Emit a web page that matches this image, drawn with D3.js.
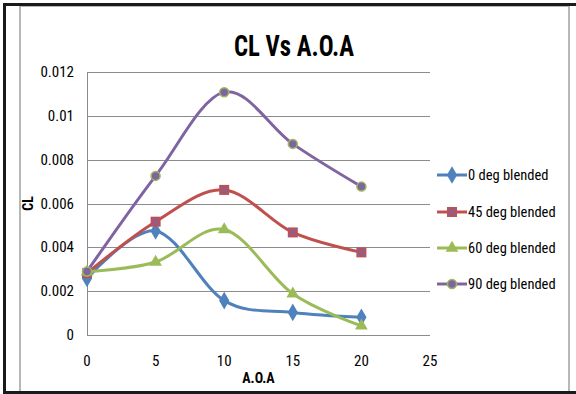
<!DOCTYPE html>
<html>
<head>
<meta charset="utf-8">
<script src="https://cdn.jsdelivr.net/npm/d3@7"></script>
<style>
  body { margin: 0; background: #fff; }
  svg { display: block; }
  text { font-family: "Liberation Sans Narrow", "Roboto Condensed", "DejaVu Sans Condensed", sans-serif; fill: #000; }
</style>
</head>
<body>
<div id="chart"></div>
<script>
const width = 576;
const height = 394;
const margin = { left: 87, right: 146, top: 72, bottom: 59 };

// data
const aoa = [0, 5, 10, 15, 20];
const series_names = ['0 deg blended', '45 deg blended', '60 deg blended', '90 deg blended'];
const cl_0 = [0.00258, 0.00475, 0.00157, 0.00103, 0.00081];
const cl_45 = [0.00282, 0.00517, 0.00662, 0.00468, 0.00377];
const cl_60 = [0.00288, 0.00333, 0.00481, 0.00188, 0.00042];
const cl_90 = [0.00290, 0.00726, 0.01108, 0.00872, 0.00677];
const x_ticks = [0, 5, 10, 15, 20, 25];
const y_ticks = [0, 0.002, 0.004, 0.006, 0.008, 0.01, 0.012];

const colors = ['#4f81bd', '#c0504d', '#9bbb59', '#8064a2'];
const series = [cl_0, cl_45, cl_60, cl_90].map((vals, i) => ({
  name: series_names[i],
  color: colors[i],
  points: vals.map((v, j) => ({ x: aoa[j], y: v }))
}));

const plot_w = width - margin.left - margin.right;
const plot_h = height - margin.top - margin.bottom;

const x_scale = d3.scaleLinear().domain([0, 25]).range([0, plot_w]);
const y_scale = d3.scaleLinear().domain([0, 0.012]).range([plot_h, 0]);

const root = d3.select('#chart')
  .append('svg')
    .attr('width', width)
    .attr('height', height);

// frame
root.append('rect')
  .attr('x', 20).attr('y', 6).attr('width', 549).attr('height', 400)
  .attr('fill', 'none').attr('stroke', '#a0a0a0').attr('stroke-width', 1.5);
root.append('path')
  .attr('d', 'M4.5,400V4.5H580M4,392.5H580')
  .attr('fill', 'none').attr('stroke', '#1a1a1a').attr('stroke-width', 3);

// title
root.append('text')
  .attr('x', 294).attr('y', 56)
  .attr('text-anchor', 'middle')
  .attr('textLength', 120)
  .attr('lengthAdjust', 'spacingAndGlyphs')
  .style('font-size', '30px').style('font-weight', 'bold')
  .text('CL Vs A.O.A');

const svg = root.append('g')
  .attr('transform', `translate(${margin.left},${margin.top})`);

// gridlines
svg.selectAll('.grid')
    .data(y_ticks)
  .join('line')
    .attr('class', 'grid')
    .attr('x1', 0).attr('x2', plot_w)
    .attr('y1', d => Math.round(y_scale(d)) + 0.5)
    .attr('y2', d => Math.round(y_scale(d)) + 0.5)
    .attr('stroke', '#8c8c8c');
svg.append('line')
  .attr('x1', 0.5).attr('x2', 0.5).attr('y1', 0).attr('y2', plot_h)
  .attr('stroke', '#8c8c8c');

// y tick labels
svg.selectAll('.ytick')
    .data(y_ticks)
  .join('text')
    .attr('class', 'ytick')
    .attr('x', -13)
    .attr('y', d => y_scale(d) + 5)
    .attr('text-anchor', 'end')
    .style('font-size', '15px')
    .text(d => d === 0 ? '0' : String(+d.toFixed(3)));

// x tick labels
svg.selectAll('.xtick')
    .data(x_ticks)
  .join('text')
    .attr('class', 'xtick')
    .attr('x', d => x_scale(d))
    .attr('y', plot_h + 31)
    .attr('text-anchor', 'middle')
    .style('font-size', '15px')
    .text(d => d);

// axis titles
svg.append('text')
  .attr('x', plot_w / 2).attr('y', plot_h + 48)
  .attr('text-anchor', 'middle')
  .style('font-size', '14px').style('font-weight', 'bold')
  .text('A.O.A');
svg.append('text')
  .attr('transform', `translate(${-54},${plot_h / 2}) rotate(-90)`)
  .attr('text-anchor', 'middle')
  .style('font-size', '14px').style('font-weight', 'bold')
  .text('CL');

// lines
const line = d3.line()
  .x(d => x_scale(d.x))
  .y(d => y_scale(d.y))
  .curve(d3.curveCardinal.tension(0));

svg.selectAll('.series')
    .data(series)
  .join('path')
    .attr('class', 'series')
    .attr('d', d => line(d.points))
    .attr('fill', 'none')
    .attr('stroke', d => d.color)
    .attr('stroke-width', 3)
    .attr('stroke-linejoin', 'round');

// markers
let marker = (g, i, color) => {
  if (i === 0) {
    g.append('path').attr('d', d3.symbol(d3.symbolDiamond, 90)()).attr('fill', color);
  } else if (i === 1) {
    g.append('rect').attr('x', -5).attr('y', -5).attr('width', 10).attr('height', 10).attr('fill', color);
    g.append('path').attr('d', 'M-4,-4L4,4M-4,4L4,-4').attr('stroke', '#8064a2').attr('stroke-width', 1.5);
  } else if (i === 2) {
    g.append('path').attr('d', d3.symbol(d3.symbolTriangle, 70)()).attr('fill', color);
  } else {
    g.append('circle').attr('r', 4.5).attr('fill', color).attr('stroke', '#9bbb59').attr('stroke-width', 1.5);
  }
};

series.forEach((s, i) => {
  s.points.forEach(p => {
    const g = svg.append('g')
      .attr('transform', `translate(${x_scale(p.x)},${y_scale(p.y)})`);
    marker(g, i, s.color);
  });
});

// legend
const legend = root.append('g').attr('transform', 'translate(437,0)');
const legend_y = [175, 212, 248, 284];
series.forEach((s, i) => {
  const g = legend.append('g').attr('transform', `translate(0,${legend_y[i]})`);
  g.append('line').attr('x1', 0).attr('x2', 30).attr('stroke', s.color).attr('stroke-width', 3);
  const m = g.append('g').attr('transform', 'translate(15,0)');
  marker(m, i, s.color);
  g.append('text')
    .attr('x', 31).attr('y', 5)
    .style('font-size', '14.5px')
    .text(s.name);
});
</script>
</body>
</html>
